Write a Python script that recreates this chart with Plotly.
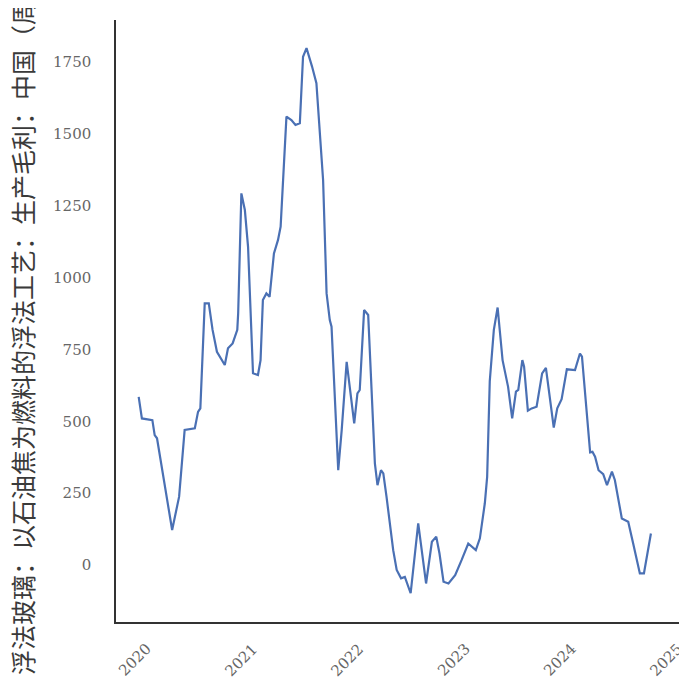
import plotly.graph_objects as go

# 浮法玻璃（石油焦）生产毛利，周度，数值读自图
dates = [
    "2020-01-04", "2020-01-15", "2020-02-20", "2020-02-28", "2020-03-07",
    "2020-04-28", "2020-05-22", "2020-06-10", "2020-07-15", "2020-07-26",
    "2020-08-03", "2020-08-18", "2020-09-01", "2020-09-14", "2020-09-29",
    "2020-10-26", "2020-11-06", "2020-11-22", "2020-12-08", "2020-12-11",
    "2020-12-22", "2021-01-03", "2021-01-14", "2021-01-31", "2021-02-17",
    "2021-02-26", "2021-03-06", "2021-03-18", "2021-03-29", "2021-04-13",
    "2021-04-27", "2021-05-06", "2021-05-26", "2021-06-12", "2021-06-26",
    "2021-07-11", "2021-07-22", "2021-08-03", "2021-08-22", "2021-09-06",
    "2021-09-29", "2021-10-11", "2021-10-22", "2021-10-28", "2021-11-20",
    "2021-12-02", "2021-12-19", "2022-01-14", "2022-01-25", "2022-02-02",
    "2022-02-17", "2022-03-03", "2022-03-26", "2022-04-04", "2022-04-16",
    "2022-04-24", "2022-05-05", "2022-05-28", "2022-06-09", "2022-06-24",
    "2022-07-07", "2022-07-27", "2022-08-22", "2022-09-18", "2022-10-08",
    "2022-10-23", "2022-11-03", "2022-11-17", "2022-12-04", "2022-12-27",
    "2023-01-18", "2023-02-10", "2023-03-08", "2023-03-22", "2023-04-08",
    "2023-04-16", "2023-04-25", "2023-05-09", "2023-05-22", "2023-06-08",
    "2023-06-27", "2023-07-11", "2023-07-24", "2023-08-01", "2023-08-15",
    "2023-08-21", "2023-09-03", "2023-09-16", "2023-10-03", "2023-10-22",
    "2023-11-04", "2023-11-18", "2023-12-01", "2023-12-13", "2023-12-28",
    "2024-01-15", "2024-02-12", "2024-02-29", "2024-03-07", "2024-04-04",
    "2024-04-12", "2024-04-21", "2024-05-03", "2024-05-19", "2024-06-01",
    "2024-06-18", "2024-06-28", "2024-07-22", "2024-08-13", "2024-08-30",
    "2024-09-22", "2024-10-06", "2024-10-15", "2024-10-30",
]
margin = [
    585, 510, 504, 452, 441,
    122, 238, 470, 476, 533,
    545, 910, 910, 818, 742,
    696, 754, 771, 818, 876,
    1293, 1235, 1107, 667, 661,
    713, 922, 945, 933, 1084,
    1131, 1177, 1560, 1548, 1531,
    1537, 1768, 1798, 1734, 1676,
    1339, 945, 852, 829, 330,
    470, 707, 493, 597, 609,
    887, 870, 354, 278, 330,
    319, 238, 52, -17, -46,
    -41, -98, 145, -64, 81,
    99, 41, -58, -64, -35,
    17, 75, 52, 93, 215,
    307, 640, 818, 896, 713,
    620, 510, 603, 609, 713,
    690, 537, 545, 551, 667,
    686, 574, 478, 545, 577,
    681, 678, 736, 725, 392,
    394, 377, 330, 316, 278,
    325, 296, 162, 151, 75,
    -29, -29, 26, 110,
]
year_ticks = ["2020", "2021", "2022", "2023", "2024", "2025"]
y_ticks = [0, 250, 500, 750, 1000, 1250, 1500, 1750]
y_title = "浮法玻璃：以石油焦为燃料的浮法工艺：生产毛利：中国（周）"

tick_font = dict(family="DejaVu Serif", size=15, color="#666666")

fig = go.Figure()
fig.add_trace(
    go.Scatter(
        x=dates,
        y=margin,
        mode="lines",
        line=dict(color="#4a70b4", width=2.2),
        showlegend=False,
    )
)

# 斜着的年份标签，居中放在刻度下方
for yr in year_ticks:
    fig.add_annotation(
        x=f"{yr}-01-01", y=-0.063, xref="x", yref="paper",
        text=yr, textangle=-45, showarrow=False, xshift=-3,
        xanchor="center", yanchor="middle", font=tick_font,
    )

fig.add_annotation(
    x=-0.167, y=0.493, xref="paper", yref="paper",
    text=y_title, textangle=-90, showarrow=False,
    xanchor="center", yanchor="middle",
    font=dict(family="Noto Sans CJK SC", size=25, color="#3a3a3a"),
)

fig.update_layout(
    width=679,
    height=680,
    margin=dict(l=108, r=7, t=12, b=66),
    paper_bgcolor="white",
    plot_bgcolor="white",
    xaxis=dict(
        type="date",
        range=["2019-10-18", "2025-02-07"],
        showgrid=False,
        zeroline=False,
        showline=True,
        linecolor="#333333",
        linewidth=1.5,
        tickvals=[f"{y}-01-01" for y in year_ticks],
        showticklabels=False,
        ticks="",
    ),
    yaxis=dict(
        range=[-198, 1896],
        showgrid=False,
        zeroline=False,
        showline=True,
        linecolor="#333333",
        linewidth=1.5,
        tickvals=y_ticks,
        ticks="",
        ticklabelstandoff=20,
        tickfont=tick_font,
    ),
)

fig.write_html("out.html")
